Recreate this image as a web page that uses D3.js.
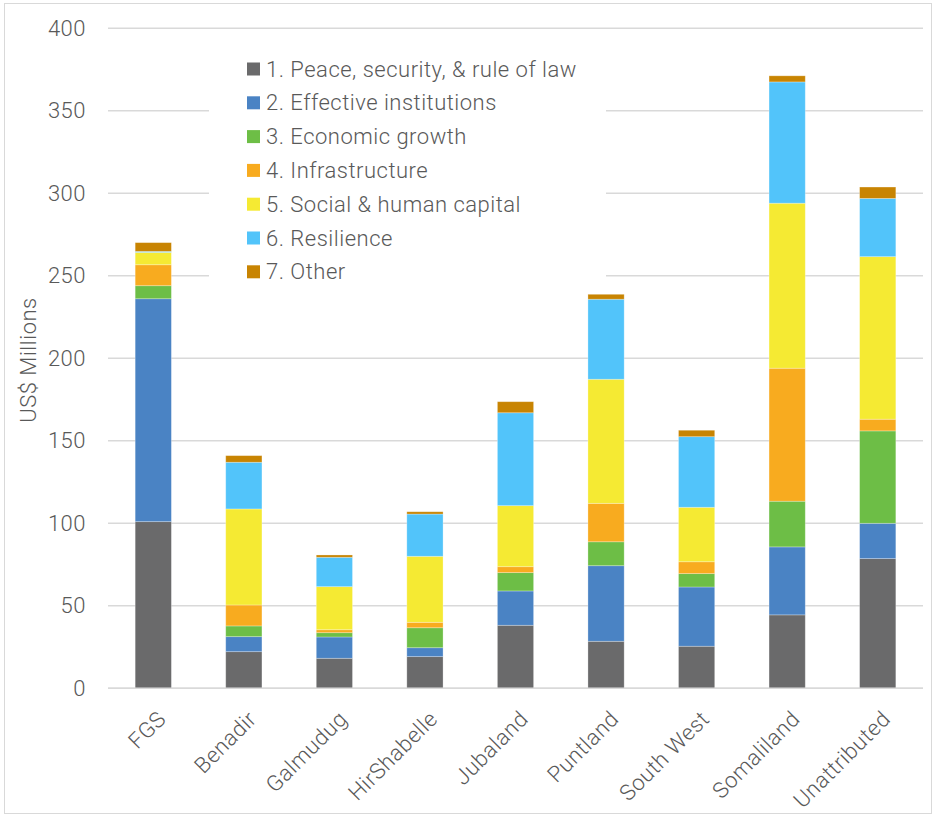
<!DOCTYPE html>
<html>
<head>
<meta charset="utf-8">
<script src="https://cdn.jsdelivr.net/npm/d3@7/dist/d3.min.js"></script>
<style>
  html, body { margin: 0; padding: 0; background: #fff; }
  svg { display: block; }
  text { font-family: "Roboto", "Liberation Sans", sans-serif; font-weight: 300; fill: #595959; letter-spacing: 0.5px; }
</style>
</head>
<body>
<svg id="chart" width="933" height="815"></svg>
<script>
const categories = ["FGS", "Benadir", "Galmudug", "HirShabelle", "Jubaland", "Puntland", "South West", "Somaliland", "Unattributed"];
const seriesNames = ["1. Peace, security, & rule of law", "2. Effective institutions", "3. Economic growth", "4. Infrastructure", "5. Social & human capital", "6. Resilience", "7. Other"];
const peace        = [101.0, 22.2, 18.2, 19.2, 38.2, 28.5, 25.5, 44.5, 78.6];
const institutions = [135.1,  9.1, 12.9,  5.4, 20.8, 45.8, 35.9, 41.2, 21.4];
const economic     = [  7.9,  6.5,  2.6, 12.1, 11.1, 14.5,  8.1, 27.7, 56.0];
const infra        = [ 12.7, 12.7,  1.8,  3.3,  3.6, 23.3,  7.2, 80.6,  7.1];
const social       = [  7.5, 58.2, 26.1, 40.0, 37.0, 75.2, 33.0, 100.0, 98.5];
const resilience   = [  0.6, 28.3, 17.8, 25.6, 56.3, 48.5, 42.8, 73.5, 35.3];
const other        = [  5.3,  4.0,  1.4,  1.4,  6.7,  3.0,  3.9,  3.7,  6.9];
const yTicks = [0, 50, 100, 150, 200, 250, 300, 350, 400];
const colors = ["#6a6a6b", "#4a83c4", "#6dbe46", "#f8ab1f", "#f5ea33", "#52c4fa", "#c88402"];

const seriesValues = [peace, institutions, economic, infra, social, resilience, other];
const keys = seriesNames;
const table = categories.map((c, i) => {
  const row = { category: c };
  keys.forEach((k, j) => row[k] = seriesValues[j][i]);
  return row;
});
const stacked = d3.stack().keys(keys)(table);

const svg = d3.select("#chart");
const W = 933, H = 815;
const m = { left: 108, right: 10, top: 28.3, bottom: 126.7 };
const x = d3.scaleBand().domain(categories).range([m.left, W - m.right]).paddingInner(0.6).paddingOuter(0.3);
const y = d3.scaleLinear().domain([0, 400]).range([H - m.bottom, m.top]);
const FONT = "Roboto, 'Liberation Sans', sans-serif";

// outer border
svg.append("rect").attr("x", 4.5).attr("y", 3.5).attr("width", W - 6).attr("height", H - 5)
  .attr("fill", "none").attr("stroke", "#d9d9d9").attr("stroke-width", 1);

// gridlines
svg.append("g").selectAll("line").data(yTicks).join("line")
  .attr("x1", m.left).attr("x2", W - m.right)
  .attr("y1", d => y(d)).attr("y2", d => y(d))
  .attr("stroke", "#d9d9d9").attr("stroke-width", 1.5);

// y axis labels
const yAxis = d3.axisLeft(y).tickValues(yTicks).tickSize(0).tickPadding(22);
const gy = svg.append("g").attr("transform", `translate(${m.left},0)`).call(yAxis);
gy.select(".domain").remove();
gy.selectAll("text").attr("font-size", 22).style("fill", "#595959").style("font-family", FONT).style("font-weight", 300).style("letter-spacing", "0.5px");

// bars
svg.append("g").selectAll("g").data(stacked).join("g")
  .attr("fill", (d, i) => colors[i])
  .selectAll("rect").data(d => d).join("rect")
  .attr("x", d => x(d.data.category))
  .attr("width", x.bandwidth())
  .attr("y", d => y(d[1]))
  .attr("height", d => Math.max(0, y(d[0]) - y(d[1])))
  .attr("stroke", "rgba(255,255,255,0.35)").attr("stroke-width", 0.8);

// x axis line
svg.append("line").attr("x1", m.left).attr("x2", W - m.right)
  .attr("y1", y(0)).attr("y2", y(0)).attr("stroke", "#d9d9d9").attr("stroke-width", 1.5);

// x labels
const xAxis = d3.axisBottom(x).tickSize(0).tickPadding(0);
const gx = svg.append("g").attr("transform", `translate(0,${y(0)})`).call(xAxis);
gx.select(".domain").remove();
gx.selectAll("text")
  .attr("font-size", 22).style("fill", "#595959").style("font-family", FONT).style("font-weight", 300).style("letter-spacing", "0.5px")
  .attr("text-anchor", "end")
  .attr("dy", "0")
  .attr("y", 0)
  .attr("transform", "translate(14,32) rotate(-45)");

// y title
svg.append("text").attr("transform", "translate(36,360) rotate(-90)")
  .attr("text-anchor", "middle").attr("font-size", 22).text("US$ Millions");

// legend
const legend = svg.append("g");
legend.append("rect").attr("x", 209).attr("y", 48).attr("width", 397).attr("height", 244).attr("fill", "#fff");
const li = legend.selectAll("g").data(seriesNames).join("g")
  .attr("transform", (d, i) => `translate(247,${69 + i * 33.8})`);
li.append("rect").attr("x", 0).attr("y", -6.5).attr("width", 13).attr("height", 13).attr("fill", (d, i) => colors[i]);
li.append("text").attr("x", 19).attr("y", 7.5).attr("font-size", 22).text(d => d);
</script>
</body>
</html>
